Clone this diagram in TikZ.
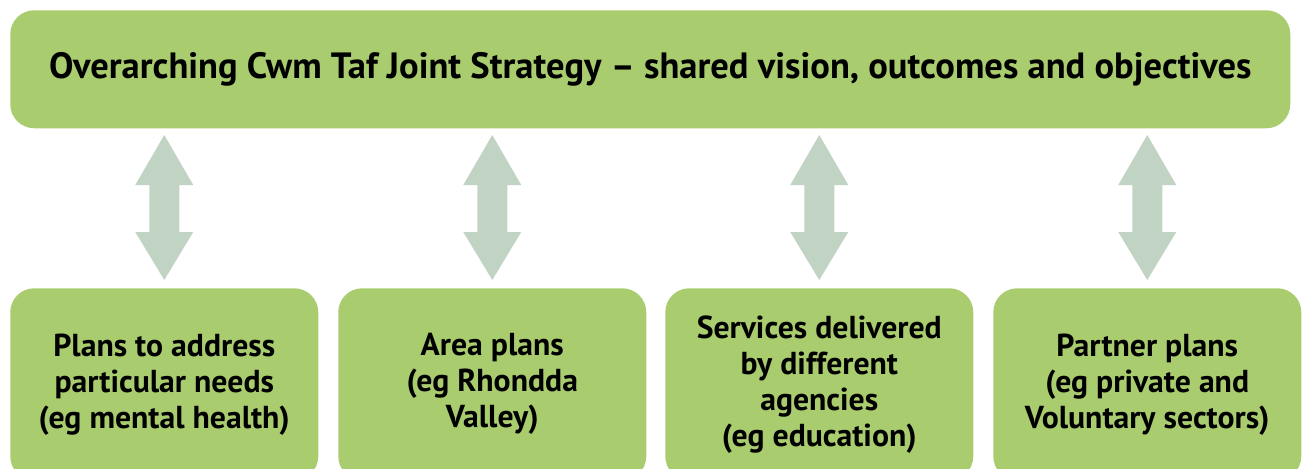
\documentclass[tikz,border=0pt]{standalone}
\usepackage{fontspec}
\setmainfont{PT Sans}
\usetikzlibrary{calc}
\begin{document}
\begin{tikzpicture}[x=0.75pt,y=-0.75pt,
  box/.style={fill=boxgreen,draw=none,rounded corners=18pt,font=\bfseries\fontsize{23.8}{27}\selectfont,align=center,inner sep=0pt},
  dblarrow/.style={fill=arrowgrey,draw=none}]
\definecolor{boxgreen}{HTML}{A9CC6E}
\definecolor{arrowgrey}{HTML}{C1D3C3}
\useasboundingbox (0,0) rectangle (1303,468);
\begin{scope}
\clip (0,0) rectangle (1303,468);
\node[box,minimum width=1280*0.75pt,minimum height=118*0.75pt,anchor=north west,font=\bfseries\fontsize{27.4}{30}\selectfont] (top) at (10,10) {Overarching Cwm Taf Joint Strategy -- shared vision, outcomes and objectives};
\node[box,minimum width=308*0.75pt,minimum height=192*0.75pt,anchor=north west] (b1) at (10,288) {Plans to address\\particular needs\\(eg mental health)};
\node[box,minimum width=308*0.75pt,minimum height=192*0.75pt,anchor=north west] (b2) at (338,288) {Area plans\\(eg Rhondda\\Valley)};
\node[box,minimum width=308*0.75pt,minimum height=192*0.75pt,anchor=north west] (b3) at (665,288) {Services delivered\\by different\\agencies\\(eg education)};
\node[box,minimum width=308*0.75pt,minimum height=192*0.75pt,anchor=north west] (b4) at (993,288) {Partner plans\\(eg private and\\Voluntary sectors)};
\end{scope}
\foreach \b in {b1,b2,b3,b4}{
  \path (\b.north) coordinate (c);
  \fill[dblarrow] let \p1=(c) in
    (\x1,{-135*0.75pt}) -- (\x1+29*0.75pt,{-185*0.75pt}) -- (\x1+15*0.75pt,{-185*0.75pt})
    -- (\x1+15*0.75pt,{-232*0.75pt}) -- (\x1+29*0.75pt,{-232*0.75pt}) -- (\x1,{-280*0.75pt})
    -- (\x1-29*0.75pt,{-232*0.75pt}) -- (\x1-15*0.75pt,{-232*0.75pt}) -- (\x1-15*0.75pt,{-185*0.75pt})
    -- (\x1-29*0.75pt,{-185*0.75pt}) -- cycle;
}
\end{tikzpicture}
\end{document}
